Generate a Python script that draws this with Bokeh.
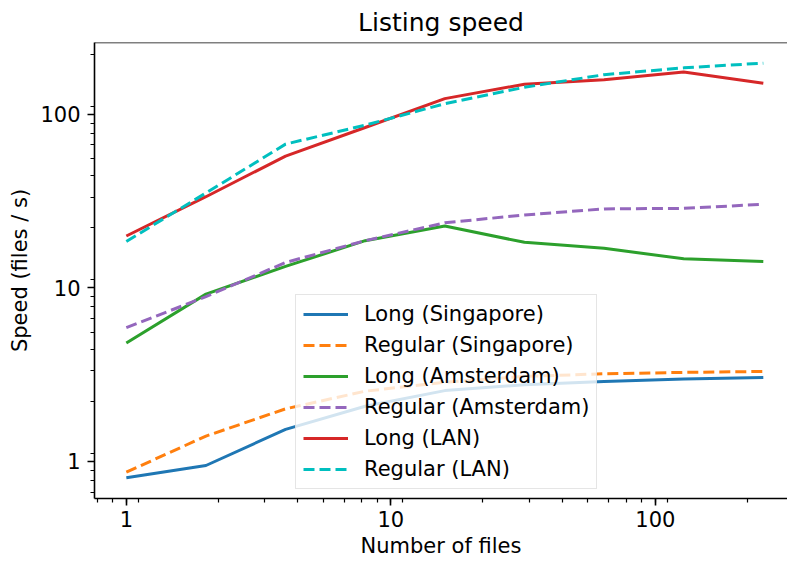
from bokeh.plotting import figure
from bokeh.models import (Range1d, LogTicker, PrintfTickFormatter, Legend, LegendItem, Span)
from bokeh.embed import file_html
from bokeh.resources import INLINE

files = [1, 2, 4, 8, 16, 32, 64, 128, 256]
long_singapore = [0.806, 0.948, 1.53, 2.08, 2.56, 2.77, 2.89, 2.99, 3.05]
regular_singapore = [0.868, 1.40, 2.01, 2.54, 2.86, 3.09, 3.20, 3.26, 3.30]
long_amsterdam = [4.81, 9.2, 13.3, 18.7, 22.7, 18.3, 16.9, 14.7, 14.2]
regular_amsterdam = [5.9, 8.9, 14.0, 18.7, 23.7, 26.3, 28.5, 28.7, 30.3]
long_lan = [19.9, 33.5, 57.4, 83.9, 123, 149, 158, 175, 151]
regular_lan = [18.5, 35.2, 67.3, 86.5, 115, 143, 169, 185, 197]

series = [
    ("Long (Singapore)", long_singapore, "#1f77b4", "solid"),
    ("Regular (Singapore)", regular_singapore, "#ff7f0e", "11 5"),
    ("Long (Amsterdam)", long_amsterdam, "#2ca02c", "solid"),
    ("Regular (Amsterdam)", regular_amsterdam, "#9467bd", "11 5"),
    ("Long (LAN)", long_lan, "#d62728", "solid"),
    ("Regular (LAN)", regular_lan, "#00bfbf", "11 5"),
]

FONT = "DejaVu Sans"
FS = "21px"

p = figure(width=787, height=563, x_axis_type="log", y_axis_type="log",
           x_range=Range1d(0.758, 316), y_range=Range1d(0.612, 259),
           output_backend="svg", toolbar_location=None,
           min_border_left=94, min_border_right=0, min_border_top=42, min_border_bottom=65,
           title="Listing speed")
p.outline_line_color = None
p.grid.visible = False
p.background_fill_color = "white"
p.border_fill_color = "white"

p.title.align = "center"
p.title.offset = 5
p.title.standoff = 11
p.title.text_font = FONT
p.title.text_font_size = "25px"
p.title.text_font_style = "normal"
p.title.text_color = "black"

for ax in (p.xaxis[0], p.yaxis[0]):
    ax.ticker = LogTicker(mantissas=[1], num_minor_ticks=9)
    ax.formatter = PrintfTickFormatter(format="%d")
    ax.major_label_text_font = FONT
    ax.major_label_text_font_size = FS
    ax.major_label_text_color = "black"
    ax.axis_label_text_font = FONT
    ax.axis_label_text_font_size = FS
    ax.axis_label_text_font_style = "normal"
    ax.axis_label_text_color = "black"
    ax.axis_line_width = 1.6
    ax.axis_line_color = "black"
    ax.major_tick_line_color = "black"
    ax.minor_tick_line_color = "black"
    ax.major_tick_line_width = 1.6
    ax.minor_tick_line_width = 1.2
    ax.major_tick_in = 0
    ax.major_tick_out = 7
    ax.minor_tick_in = 0
    ax.minor_tick_out = 4

p.yaxis.major_label_standoff = 7
p.xaxis.major_label_standoff = 5
p.xaxis.axis_label = "Number of files"
p.yaxis.axis_label = "Speed (files / s)"
p.xaxis.axis_label_standoff = 4
p.yaxis.axis_label_standoff = 5

p.add_layout(Span(location=259, dimension="width", line_color="black", line_width=1.6))

items = []
for name, vals, color, dash in series:
    r = p.line(files, vals, line_color=color, line_width=3, line_dash=dash)
    items.append(LegendItem(label=name, renderers=[r]))

legend = Legend(items=items, location=(201, 9), margin=0, padding=7,
                spacing=7, glyph_width=45, glyph_height=24, label_standoff=16,
                label_text_font=FONT, label_text_font_size=FS,
                label_text_color="black", label_height=24,
                background_fill_color="white", background_fill_alpha=0.8,
                border_line_color="#cccccc", border_line_width=1.2)
p.add_layout(legend, "center")

open("out.html", "w").write(file_html(p, INLINE))
